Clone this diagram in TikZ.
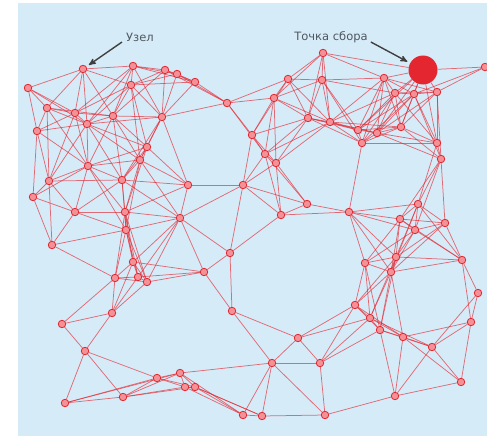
\documentclass[tikz,border=0pt]{standalone}
\usepackage{fontspec}
\setmainfont{DejaVu Sans}
\usetikzlibrary{arrows}
\definecolor{netred}{RGB}{228,38,48}
\definecolor{skyblue}{RGB}{214,235,248}
\definecolor{labelgrey}{RGB}{80,88,96}
\pgfdeclarelayer{backdrop}
\pgfdeclarelayer{links}
\pgfsetlayers{backdrop,links,main}
\tikzset{
	>=stealth',
	sensor/.style={
		circle,
		draw=netred, line width=0.8pt,
		fill=netred!50,
		inner sep=0pt,
		minimum size=7.5pt},
	sink/.style={
		circle,
		fill=netred,
		inner sep=0pt,
		minimum size=29pt},
	link/.style={draw=netred, line width=0.75pt, opacity=0.65},
	tag/.style={font=\fontsize{11.5}{13}\selectfont, text=labelgrey, inner sep=1pt},
	pointer/.style={->, line width=1.4pt, draw=black!75, shorten >=3pt},
}
\def\sensors{28/88, 83/69, 133/66, 165/70, 177/74, 131/85, 47/108, 75/113, 87/124, 113/116,
	162/117, 37/131, 147/147, 140/160, 88/166, 49/181, 122/180, 188/185, 33/197, 75/212,
	125/212, 180/218, 126/230, 52/245, 133/262, 115/278, 138/277, 147/282, 204/272, 230/253,
	243/185, 227/103, 195/82, 323/53, 288/79, 322/80, 274/98, 252/135, 265/154, 276/163,
	308/118, 330/122, 384/78, 485/67, 395/93, 414/94, 437/92, 358/130, 362/143, 401/127,
	437/143, 441/159, 377/133, 307/204, 281/215, 349/212, 418/204, 400/219, 415/230, 445/223,
	365/263, 396/257, 391/272, 462/260, 478/293, 471/322, 355/305, 370/318, 380/330, 403/337,
	432/347, 461/382, 395/396, 320/363, 298/338, 272/363, 325/415, 262/416, 243/415, 232/311,
	62/324, 112/313, 85/351, 65/403, 123/397, 157/378, 180/373, 185/387, 195/387}

\begin{document}
\begin{tikzpicture}[x=1pt, y=-1pt]
	\useasboundingbox (0,0) rectangle (487,436);
	\begin{pgfonlayer}{backdrop}
		\fill[white] (0,0) rectangle (487,436);
		\fill[skyblue] (18,3) rectangle (487,436);
	\end{pgfonlayer}

	% sensor nodes
	\foreach \px/\py [count=\i] in \sensors
		\node[sensor] (s\i) at (\px,\py) {};
	\node[sink] (sink) at (423,70) {};

	% radio links between neighbours
	\begin{pgfonlayer}{links}
		\foreach \xa/\ya [count=\i] in \sensors {
			\foreach \xb/\yb [count=\j] in \sensors {
				\ifnum\j>\i
					\pgfmathsetmacro\gap{veclen(\xa-\xb,\ya-\yb)}
					\ifdim\gap pt<76pt \draw[link] (s\i) -- (s\j); \fi
				\fi
			}
		}
		\foreach \a/\b in {84/86, 83/86, 84/87, 87/76, 89/78}
			\draw[link] (s\a) -- (s\b);
		\foreach \k in {34,43,44,45,46,47,48,50,51,53}
			\draw[link] (sink) -- (s\k);
	\end{pgfonlayer}

	\node[tag] (nodetag) at (140,37) {Узел};
	\node[tag] (sinktag) at (331,37) {Точка сбора};
	\draw[pointer] ([shift={(-3pt,-5pt)}]nodetag.west) -- (s2);
	\draw[pointer] ([shift={(2pt,-5pt)}]sinktag.east) -- (sink);
\end{tikzpicture}
\end{document}
